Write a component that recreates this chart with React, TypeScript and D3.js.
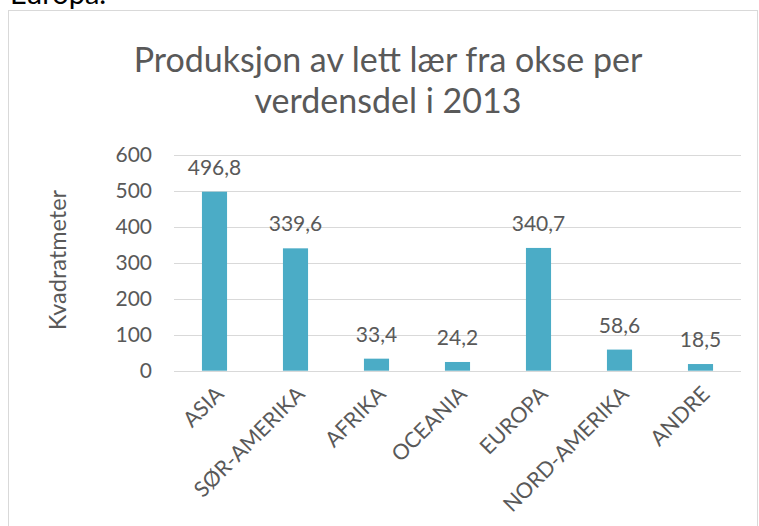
import React from "react";
import * as d3 from "d3";

const categories = ["ASIA", "SØR-AMERIKA", "AFRIKA", "OCEANIA", "EUROPA", "NORD-AMERIKA", "ANDRE"];
const values = [496.8, 339.6, 33.4, 24.2, 340.7, 58.6, 18.5];
const valueLabels = ["496,8", "339,6", "33,4", "24,2", "340,7", "58,6", "18,5"];
const yTicks = [0, 100, 200, 300, 400, 500, 600];
const titleLines = ["Produksjon av lett lær fra okse per", "verdensdel i 2013"];
const yAxisTitle = "Kvadratmeter";

const W = 759;
const H = 526;
const FONT = "Lato, 'Open Sans', sans-serif";
const TEXT = "#595959";
const GRID = "#d9d9d9";
const BAR = "#4BACC6";

export default function App() {
  const x = d3
    .scaleBand<string>()
    .domain(categories)
    .range([174, 741])
    .paddingInner(0.69)
    .paddingOuter(0.345);
  const y = d3.scaleLinear().domain([0, 600]).range([370.7, 154.5]);

  return (
    <svg
      width={W}
      height={H}
      style={{ position: "absolute", left: 0, top: 0, background: "#fff" }}
      fontFamily={FONT}
    >
      <text x={10} y={4} fontSize={29} fill="#000">
        Europa.
      </text>
      <rect x={8.5} y={10.5} width={749} height={525} fill="none" stroke={GRID} strokeWidth={1} />

      {titleLines.map((t, i) => (
        <text key={i} x={388} y={72 + i * 41} textAnchor="middle" fontSize={34} fill={TEXT}>
          {t}
        </text>
      ))}

      <text
        transform={`translate(66,260) rotate(-90)`}
        textAnchor="middle"
        fontSize={23.5}
        fill={TEXT}
      >
        {yAxisTitle}
      </text>

      {yTicks.map((t) => (
        <g key={t}>
          <line x1={174} x2={741} y1={Math.round(y(t)) + 0.5} y2={Math.round(y(t)) + 0.5} stroke={GRID} strokeWidth={1} />
          <text x={152} y={y(t)} dy="0.36em" textAnchor="end" fontSize={21} fill={TEXT}>
            {t}
          </text>
        </g>
      ))}

      {categories.map((c, i) => {
        const x0 = x(c) as number;
        const cx = x0 + x.bandwidth() / 2;
        return (
          <g key={c}>
            <rect x={x0} y={y(values[i])} width={x.bandwidth()} height={y(0) - y(values[i])} fill={BAR} />
            <text x={cx} y={y(values[i]) - 17} textAnchor="middle" fontSize={21} fill={TEXT}>
              {valueLabels[i]}
            </text>
            <text
              transform={`translate(${cx + 5},${390}) rotate(-45)`}
              textAnchor="end"
              dy="0.36em"
              fontSize={21.5}
              fill={TEXT}
            >
              {c}
            </text>
          </g>
        );
      })}
    </svg>
  );
}
